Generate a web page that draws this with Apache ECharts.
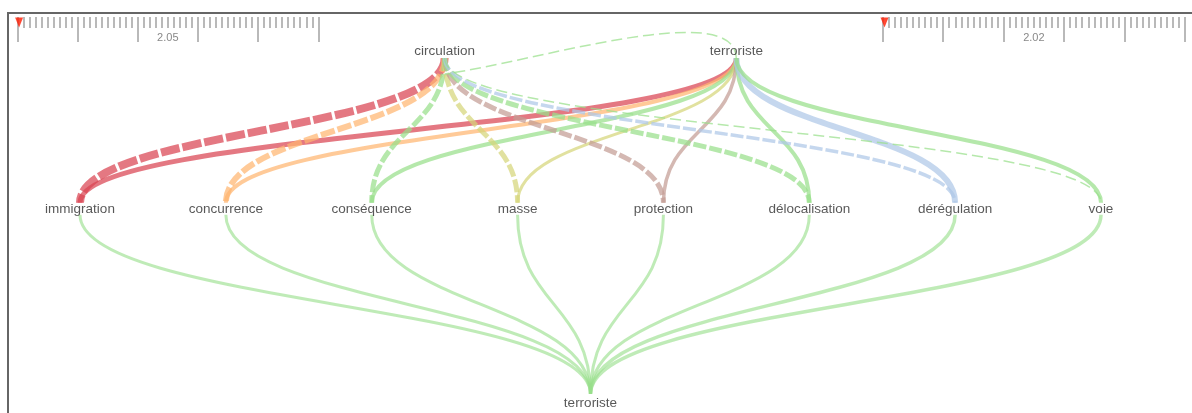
<!DOCTYPE html>
<html>
<head>
<meta charset="utf-8">
<script src="https://cdn.jsdelivr.net/npm/echarts@6/dist/echarts.min.js"></script>
<style>
html,body{margin:0;padding:0;background:#fff;}
#main{width:1192px;height:413px;}
</style>
</head>
<body>
<div id="main"></div>
<script>
// ---- data ----
const nodeNames = ['circulation','terroriste','immigration','concurrence','conséquence','masse','protection','délocalisation','dérégulation','voie','terroriste'];
const nodeCols  = [2.5, 4.5, 0, 1, 2, 3, 4, 5, 6, 7, 3.5];
const nodeRows  = [0, 0, 1, 1, 1, 1, 1, 1, 1, 1, 2.23];

const linkSource = [0,1, 0,1, 0,1, 0,1, 0,1, 0,1, 0,1, 0,1, 1, 2,3,4,5,6,7,8,9];
const linkTarget = [2,2, 3,3, 4,4, 5,5, 6,6, 7,7, 8,8, 9,9, 0, 10,10,10,10,10,10,10,10];
const linkWidth  = [8,5, 6,4, 5,4, 5,3, 5,3.5, 5,4, 3.5,6, 1.5,4, 1.5, 3,3,3,3,3,3,3.5,3.5];
const linkDashed = [1,0, 1,0, 1,0, 1,0, 1,0, 1,0, 1,0, 1,0, 1, 0,0,0,0,0,0,0,0];
const linkColor  = ['red','red','orange','orange','green','green','yellow','yellow','brown','brown','green','green','blue','blue','green','green','green',
                    'green','green','green','green','green','green','green','green'];

const rulerTicks = [0, 50];          // ruler range (minor units)
const rulerLabels = ['2.05', '2.02'];
const rulerPointer = [0.3, 0.3];

// ---- styles ----
const palette = {red:'#d94452', orange:'#ffb570', green:'#98df8a', yellow:'#d6d67a', brown:'#c49c94', blue:'#aec7e8'};

const chart = echarts.init(document.getElementById('main'));

const linkData = linkSource.map((s, i) => [s, linkTarget[i], i]);
const nodeData = nodeNames.map((n, i) => ({value: [nodeCols[i], nodeRows[i]], name: n}));

function renderLink(params, api) {
  const i = api.value(2);
  const s = linkSource[i], t = linkTarget[i];
  const p0 = api.coord([nodeCols[s], nodeRows[s]]);
  const p3 = api.coord([nodeCols[t], nodeRows[t]]);
  let x1 = p0[0], y1 = p0[1], x2 = p3[0], y2 = p3[1];
  let c1x, c1y, c2x, c2y;
  if (nodeRows[s] === nodeRows[t]) {
    // same-row loop link
    y1 = y1 + 8;
    c1x = x1; c1y = y1 - 62;
    c2x = x2 + (x1 - x2) * 0.32; c2y = y1 + 2;
    y2 = y2 + 23;
  } else {
    y1 = y1 + (nodeRows[s] === 0 ? 7 : 6);
    y2 = y2 - (nodeRows[t] >= 2 ? 9 : 6);
    const my = (y1 + y2) / 2;
    c1x = x1; c1y = my; c2x = x2; c2y = my;
  }
  const w = linkWidth[i];
  const dash = linkDashed[i] ? (w >= 3 ? [Math.max(13, w * 2.4), 3] : [11, 5]) : null;
  const op = nodeRows[t] >= 2 ? 0.62 : 0.72;
  return {
    type: 'bezierCurve',
    shape: {x1: x1, y1: y1, x2: x2, y2: y2, cpx1: c1x, cpy1: c1y, cpx2: c2x, cpy2: c2y},
    style: {stroke: palette[linkColor[i]], lineWidth: w, lineDash: dash, fill: null, opacity: op, lineCap: 'butt'}
  };
}

function rulerAxis(gi) {
  return {
    type: 'value', gridIndex: gi, position: 'top', min: rulerTicks[0], max: rulerTicks[1], interval: 10,
    axisLine: {show: false},
    axisTick: {show: true, inside: true, length: 25, lineStyle: {color: '#a8a8a8', width: 1.6}},
    minorTick: {show: true, splitNumber: 10, length: 11, lineStyle: {color: '#a8a8a8', width: 1.6}},
    splitLine: {show: false},
    axisLabel: {show: true, inside: true, margin: 15, customValues: [25], formatter: () => rulerLabels[gi - 1],
                color: '#888', fontSize: 11, fontFamily: 'Liberation Sans, Arial, sans-serif'}
  };
}

const option = {
  animation: false,
  backgroundColor: '#fff',
  graphic: [{
    type: 'rect', z: 100, silent: true,
    shape: {x: 8, y: 13, width: 1200, height: 420},
    style: {fill: null, stroke: '#666', lineWidth: 2}
  }],
  grid: [
    {left: 80, right: 91, top: 51, bottom: 10},
    {left: 17.3, width: 301, top: 17, height: 30},
    {left: 882.7, width: 302.3, top: 17, height: 30}
  ],
  xAxis: [
    {type: 'value', gridIndex: 0, min: 0, max: 7, show: false},
    rulerAxis(1),
    rulerAxis(2)
  ],
  yAxis: [
    {type: 'value', gridIndex: 0, min: 0, max: 2.23, inverse: true, show: false},
    {type: 'value', gridIndex: 1, min: 0, max: 30, inverse: true, show: false},
    {type: 'value', gridIndex: 2, min: 0, max: 30, inverse: true, show: false}
  ],
  series: [
    {
      type: 'custom', xAxisIndex: 0, yAxisIndex: 0, clip: false,
      renderItem: renderLink, data: linkData, z: 2, silent: true
    },
    {
      type: 'scatter', xAxisIndex: 0, yAxisIndex: 0, symbolSize: 0, z: 5,
      data: nodeData,
      label: {show: true, position: 'inside', formatter: '{b}', color: '#2e2e2e', fontSize: 13.5,
              fontFamily: 'Liberation Sans, Arial, Helvetica, sans-serif'}
    },
    {
      type: 'scatter', xAxisIndex: 1, yAxisIndex: 1, symbol: 'triangle', symbolRotate: 180,
      symbolSize: [8, 10], itemStyle: {color: '#ff1a00'}, z: 6,
      data: [[rulerPointer[0], 5.5]]
    },
    {
      type: 'scatter', xAxisIndex: 2, yAxisIndex: 2, symbol: 'triangle', symbolRotate: 180,
      symbolSize: [8, 10], itemStyle: {color: '#ff1a00'}, z: 6,
      data: [[rulerPointer[1], 5.5]]
    }
  ]
};
chart.setOption(option);
</script>
</body>
</html>
